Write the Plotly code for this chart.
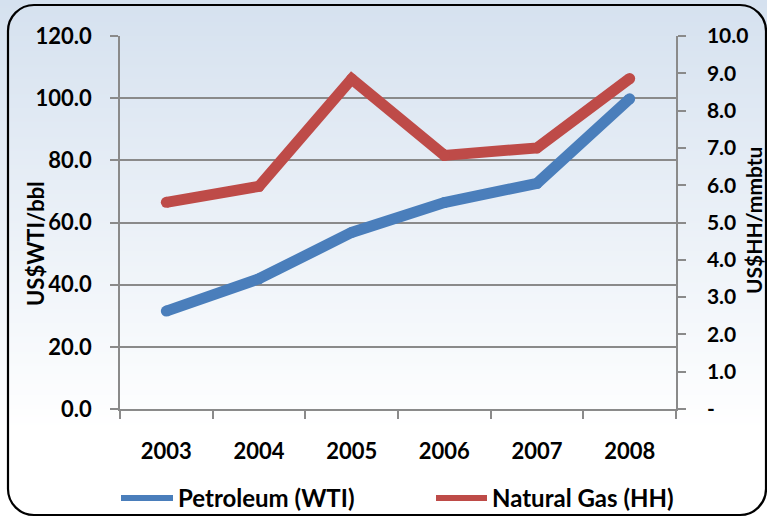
import base64, struct, zlib
import plotly.graph_objects as go

# ---- data ----
years = ["2003", "2004", "2005", "2006", "2007", "2008"]
petroleum_wti = [31.5, 41.9, 56.8, 66.4, 72.6, 99.8]
natural_gas_hh = [5.54, 5.97, 8.85, 6.80, 7.00, 8.86]
series_names = ["Petroleum (WTI)", "Natural Gas (HH)"]
left_title = "US$WTI/bbl"
right_title = "US$HH/mmbtu"
right_tickvals = [0, 1, 2, 3, 4, 5, 6, 7, 8, 9, 10]
right_ticktext = ["-", "1.0", "2.0", "3.0", "4.0", "5.0", "6.0", "7.0", "8.0", "9.0", "10.0"]

# ---- layout geometry ----
W, H = 767, 517
L, R, T, B = 120, 91, 36, 108
PW, PH = W - L - R, H - T - B

def fx(x):
    return (x - L) / PW

def fy(y):
    return (T + PH - y) / PH

BLUE = "#4A7EBB"
RED = "#BE4B48"
GRID = "#8a8a8a"
FONT = dict(family="Lato, 'Open Sans', sans-serif", size=22, color="black", weight="bold")

# vertical gradient background image
def gradient_png():
    top = (213, 225, 239)
    rows = []
    for y in range(H):
        f = min(y / 430.0, 1.0)
        c = tuple(int(round(top[i] + (255 - top[i]) * f)) for i in range(3))
        rows.append(b"\x00" + bytes(c))
    raw = b"".join(rows)
    def chunk(tag, data):
        return struct.pack(">I", len(data)) + tag + data + struct.pack(">I", zlib.crc32(tag + data) & 0xffffffff)
    png = b"\x89PNG\r\n\x1a\n" + chunk(b"IHDR", struct.pack(">IIBBBBB", 1, H, 8, 2, 0, 0, 0)) \
        + chunk(b"IDAT", zlib.compress(raw, 9)) + chunk(b"IEND", b"")
    return "data:image/png;base64," + base64.b64encode(png).decode()

fig = go.Figure()
fig.add_trace(go.Scatter(
    x=years, y=petroleum_wti, name=series_names[0], mode="lines+markers",
    line=dict(color=BLUE, width=11), marker=dict(color=BLUE, size=11),
    yaxis="y", showlegend=False))
fig.add_trace(go.Scatter(
    x=years, y=natural_gas_hh, name=series_names[1], mode="lines+markers",
    line=dict(color=RED, width=11), marker=dict(color=RED, size=11),
    yaxis="y2", showlegend=False))

# rounded border
x0, x1, y0, y1, r = 8, 766, 5, 515, 26
k = 0.5523 * r
def P(x, y):
    return f"{fx(x):.5f},{fy(y):.5f}"
path = (f"M {P(x0 + r, y0)} L {P(x1 - r, y0)} "
        f"C {P(x1 - r + k, y0)} {P(x1, y0 + r - k)} {P(x1, y0 + r)} "
        f"L {P(x1, y1 - r)} "
        f"C {P(x1, y1 - r + k)} {P(x1 - r + k, y1)} {P(x1 - r, y1)} "
        f"L {P(x0 + r, y1)} "
        f"C {P(x0 + r - k, y1)} {P(x0, y1 - r + k)} {P(x0, y1 - r)} "
        f"L {P(x0, y0 + r)} "
        f"C {P(x0, y0 + r - k)} {P(x0 + r - k, y0)} {P(x0 + r, y0)} Z")

shapes = [
    dict(type="path", path=path, xref="paper", yref="paper",
         line=dict(color="black", width=2.2), fillcolor="rgba(0,0,0,0)", layer="above"),
    dict(type="line", xref="paper", yref="paper", x0=fx(121), x1=fx(173), y0=fy(498), y1=fy(498),
         line=dict(color=BLUE, width=6)),
    dict(type="line", xref="paper", yref="paper", x0=fx(436), x1=fx(487), y0=fy(498), y1=fy(498),
         line=dict(color=RED, width=6)),
]

annotations = [
    dict(text=left_title, xref="paper", yref="paper", x=fx(36), y=fy(244), textangle=-90,
         showarrow=False, font=dict(FONT, size=22), xanchor="center", yanchor="middle"),
    dict(text=right_title, xref="paper", yref="paper", x=fx(753), y=fy(221), textangle=-90,
         showarrow=False, font=dict(FONT, size=21), xanchor="center", yanchor="middle"),
    dict(text=series_names[0], xref="paper", yref="paper", x=fx(176), y=fy(497),
         showarrow=False, font=dict(FONT, size=24), xanchor="left", yanchor="middle"),
    dict(text=series_names[1], xref="paper", yref="paper", x=fx(490), y=fy(497),
         showarrow=False, font=dict(FONT, size=24), xanchor="left", yanchor="middle"),
]

fig.update_layout(
    width=W, height=H,
    margin=dict(l=L, r=R, t=T, b=B, pad=0),
    paper_bgcolor="white", plot_bgcolor="rgba(0,0,0,0)",
    font=FONT,
    images=[dict(source=gradient_png(), xref="paper", yref="paper",
                 x=fx(0), y=fy(0), sizex=W / PW, sizey=H / PH,
                 xanchor="left", yanchor="top", sizing="stretch", layer="below")],
    shapes=shapes, annotations=annotations,
    xaxis=dict(type="category", range=[-0.5, 5.5], tickson="boundaries",
               ticks="outside", ticklen=8, tickcolor=GRID, tickwidth=1.5,
               showline=True, linecolor=GRID, linewidth=1.5, showgrid=False,
               ticklabelstandoff=22, tickfont=FONT),
    yaxis=dict(range=[0, 120], dtick=20, tickformat=".1f",
               ticks="outside", ticklen=8, tickcolor=GRID, tickwidth=1.5,
               showline=True, linecolor=GRID, linewidth=1.5,
               showgrid=True, gridcolor=GRID, gridwidth=1.5, zeroline=False,
               ticklabelstandoff=14, tickfont=FONT),
    yaxis2=dict(range=[0, 10], overlaying="y", side="right",
                tickvals=right_tickvals, ticktext=right_ticktext,
                ticks="outside", ticklen=8, tickcolor=GRID, tickwidth=1.5,
                showline=True, linecolor=GRID, linewidth=1.5,
                showgrid=False, zeroline=False,
                ticklabelstandoff=17, tickfont=dict(FONT, size=21)),
)

fig.write_html("out.html", config={"displayModeBar": False},
               post_script="document.body.style.margin='0';document.body.style.overflow='hidden';")
